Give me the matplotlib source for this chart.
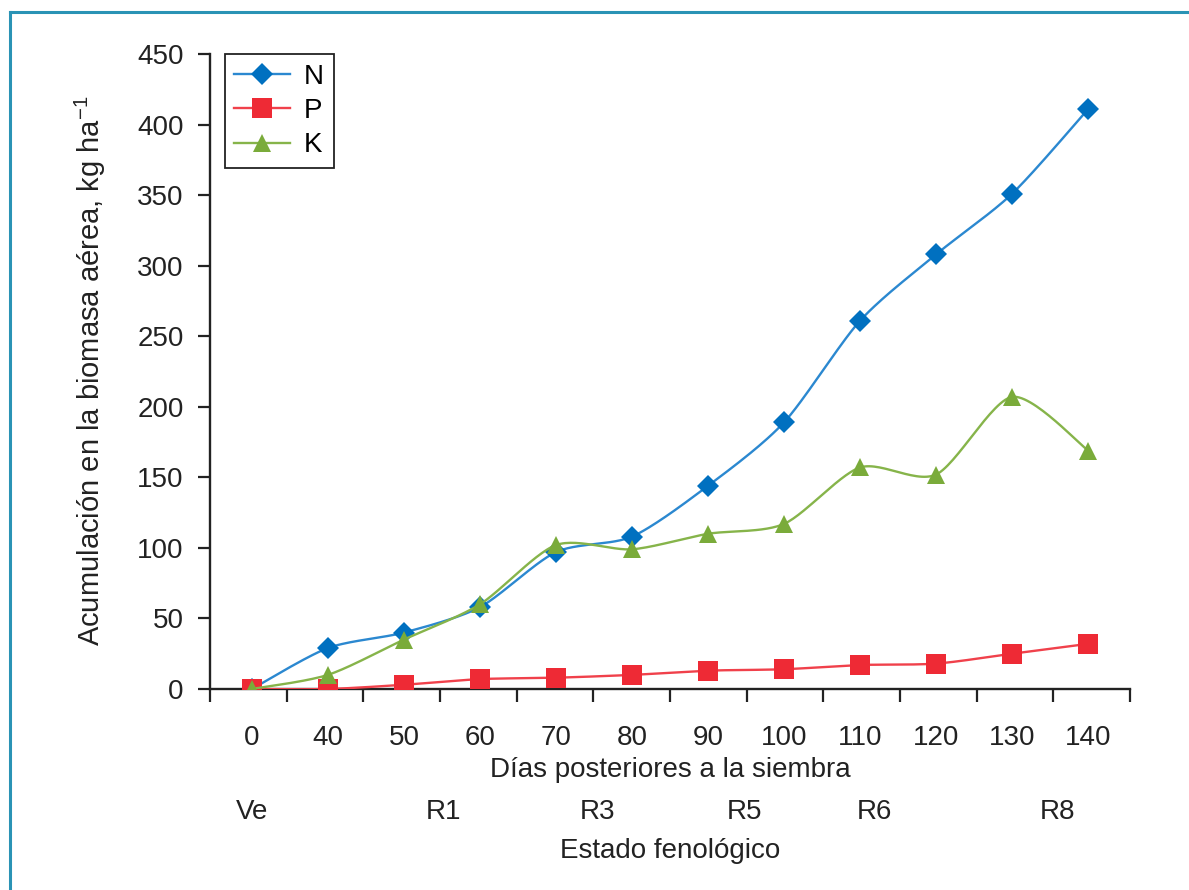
import numpy as np
import matplotlib
matplotlib.use("Agg")
import matplotlib.pyplot as plt
from matplotlib.lines import Line2D

plt.rcParams['font.family'] = ['Liberation Sans', 'DejaVu Sans']
plt.rcParams['mathtext.fontset'] = 'custom'
plt.rcParams['mathtext.rm'] = 'Liberation Sans'
plt.rcParams['mathtext.it'] = 'Liberation Sans'

# data
dias = ['0', '40', '50', '60', '70', '80', '90', '100', '110', '120', '130', '140']
N = [0, 29, 40, 58, 97, 108, 144, 189, 261, 308, 351, 411]
P = [0, 0, 3, 7, 8, 10, 13, 14, 17, 18, 25, 32]
K = [0, 10, 35, 60, 102, 99, 110, 117, 157, 152, 207, 169]
estados = ['Ve', 'R1', 'R3', 'R5', 'R6', 'R8']
estados_pos = [0, 2.52, 4.54, 6.48, 8.19, 10.59]

FS = 20
TXT = '#222222'


def smooth(x, y, n=30, k=0.8):
    # Catmull-Rom style bezier, like the spreadsheet "smoothed line"
    x = np.asarray(x, float)
    y = np.asarray(y, float)
    px = np.concatenate([[x[0]], x, [x[-1]]])
    py = np.concatenate([[y[0]], y, [y[-1]]])
    xs, ys = [], []
    t = np.linspace(0, 1, n)
    for i in range(1, len(px) - 2):
        p0 = np.array([px[i], py[i]])
        p3 = np.array([px[i + 1], py[i + 1]])
        c1 = p0 + k * (p3 - np.array([px[i - 1], py[i - 1]])) / 6
        c2 = p3 - k * (np.array([px[i + 2], py[i + 2]]) - p0) / 6
        b = ((1 - t) ** 3)[:, None] * p0 + (3 * (1 - t) ** 2 * t)[:, None] * c1 \
            + (3 * (1 - t) * t ** 2)[:, None] * c2 + (t ** 3)[:, None] * p3
        xs.extend(b[:, 0])
        ys.extend(b[:, 1])
    return xs, ys


fig = plt.figure(figsize=(11.89, 8.9), dpi=100)
ax = fig.add_axes([210 / 1189, 1 - 689 / 890, 920 / 1189, 635 / 890])

x = np.arange(len(dias))
series = [
    ('N', N, '#0070c0', '#2b88d0', 'D', 11.5),
    ('P', P, '#ee2a35', '#f0414b', 's', 14),
    ('K', K, '#7aab3a', '#86b44a', '^', 13),
]
handles = []
for i, (name, vals, mc, lc, mk, ms) in enumerate(series):
    sx, sy = smooth(x, vals)
    ax.plot(sx, sy, color=lc, lw=1.7, zorder=2 + i, solid_capstyle='round')
    ax.plot(x, vals, linestyle='none', marker=mk, ms=ms, color=mc,
            markeredgewidth=0, zorder=2 + i)
    handles.append(Line2D([], [], color=lc, lw=1.7, marker=mk, ms=ms,
                          markerfacecolor=mc, markeredgewidth=0))

ax.set_xlim(-0.55, 11.55)
ax.set_ylim(0, 450)
ax.set_yticks(np.arange(0, 451, 50))
ax.set_xticks(x)
ax.set_xticklabels(dias)
ax.set_xticks(np.linspace(-0.55, 11.55, 13), minor=True)

for s in ['top', 'right']:
    ax.spines[s].set_visible(False)
for s in ['left', 'bottom']:
    ax.spines[s].set_linewidth(1.7)
    ax.spines[s].set_color(TXT)

ax.tick_params(axis='y', direction='out', length=9, width=1.6, colors=TXT,
               labelsize=FS, pad=10)
ax.tick_params(axis='x', which='major', length=0, labelsize=FS, pad=26,
               colors=TXT)
ax.tick_params(axis='x', which='minor', direction='out', length=9, width=1.6,
               colors=TXT)

ax.set_ylabel('Acumulación en la biomasa aérea, kg ha$^{\\mathregular{-1}}$',
              fontsize=FS + 1, color=TXT)
ax.yaxis.set_label_coords(-0.111, 0.502)

ax.text(0.5, -0.1276, 'Días posteriores a la siembra', transform=ax.transAxes,
        ha='center', va='center', fontsize=FS, color=TXT)
for lab, pos in zip(estados, estados_pos):
    ax.text(pos, -0.193, lab, transform=ax.get_xaxis_transform(),
            ha='center', va='center', fontsize=FS, color=TXT)
ax.text(0.5, -0.255, 'Estado fenológico', transform=ax.transAxes,
        ha='center', va='center', fontsize=FS, color=TXT)

leg = ax.legend(handles, ['N', 'P', 'K'], loc='upper left',
                bbox_to_anchor=(0.016, 1.0), borderaxespad=0, fontsize=FS,
                fancybox=False, edgecolor=TXT, handlelength=2.0,
                handletextpad=0.5, labelspacing=0.3, borderpad=0.35,
                framealpha=1)
leg.get_frame().set_linewidth(1.3)

# teal frame round the picture
fig.add_artist(Line2D([10 / 1189, 1.0], [1 - 12 / 890, 1 - 12 / 890],
                      transform=fig.transFigure, color='#2a93b5', lw=2.2))
fig.add_artist(Line2D([10 / 1189, 10 / 1189], [0, 1 - 12 / 890],
                      transform=fig.transFigure, color='#2a93b5', lw=2.2))

fig.savefig('out.png', dpi=100)
